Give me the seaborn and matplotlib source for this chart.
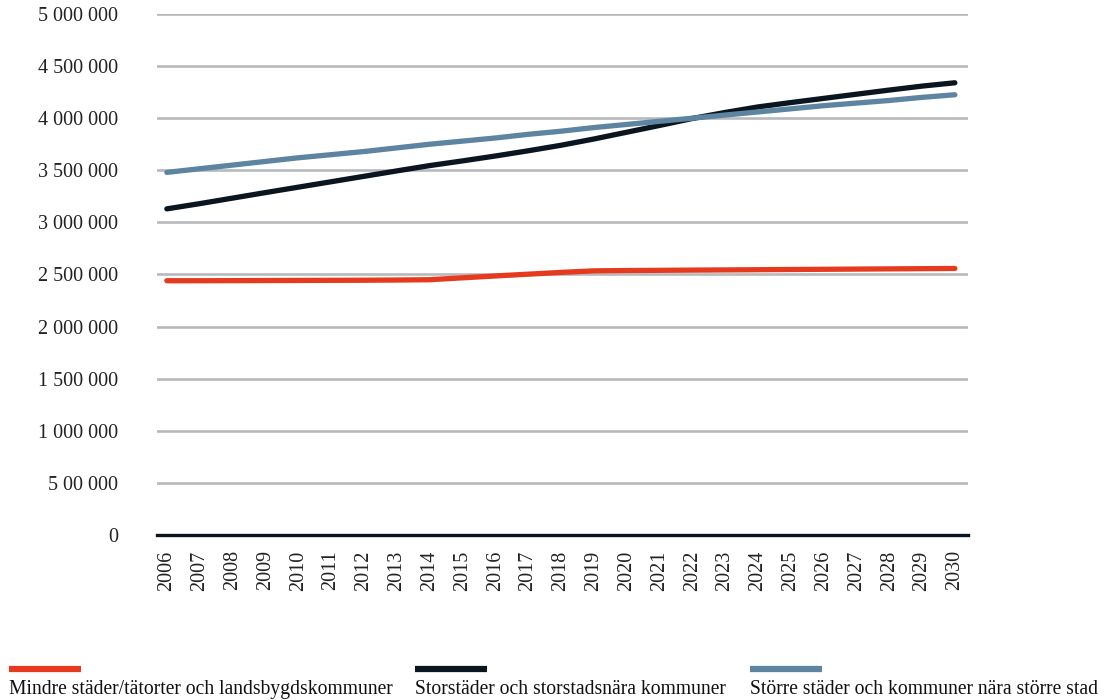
import matplotlib
matplotlib.use("Agg")
import matplotlib.pyplot as plt
from matplotlib.lines import Line2D
import seaborn as sns
import pandas as pd

years = list(range(2006, 2031))
series_names = [
    "Mindre städer/tätorter och landsbygdskommuner",
    "Storstäder och storstadsnära kommuner",
    "Större städer och kommuner nära större stad",
]
mindre = [2440000, 2440000, 2441000, 2442000, 2443000, 2444000, 2445000, 2447000, 2450000,
          2468000, 2486000, 2503000, 2520000, 2535000, 2538000, 2540000, 2542000, 2544000,
          2546000, 2548000, 2550000, 2552000, 2554000, 2556000, 2558000]
storstad = [3130000, 3180000, 3233000, 3286000, 3338000, 3390000, 3442000, 3494000, 3545000,
            3590000, 3637000, 3687000, 3740000, 3800000, 3865000, 3930000, 3997000, 4055000,
            4108000, 4150000, 4190000, 4230000, 4270000, 4308000, 4340000]
storre = [3480000, 3515000, 3550000, 3585000, 3620000, 3650000, 3680000, 3715000, 3750000,
          3780000, 3810000, 3845000, 3875000, 3910000, 3940000, 3970000, 4000000, 4030000,
          4060000, 4090000, 4120000, 4145000, 4170000, 4200000, 4225000]
colors = ["#e63a1e", "#0a1520", "#5d84a0"]
yticks = [0, 500000, 1000000, 1500000, 2000000, 2500000, 3000000, 3500000, 4000000, 4500000, 5000000]
ytick_labels = ["0", "5 00 000", "1 000 000", "1 500 000", "2 000 000", "2 500 000",
                "3 000 000", "3 500 000", "4 000 000", "4 500 000", "5 000 000"]

df = pd.DataFrame({
    "year": years * 3,
    "value": mindre + storstad + storre,
    "series": [series_names[0]] * len(years) + [series_names[1]] * len(years) + [series_names[2]] * len(years),
})

sns.set_theme(style="white")
plt.rcParams["font.family"] = ["Liberation Serif", "DejaVu Serif"]

fig = plt.figure(figsize=(11.04, 7.0), dpi=100)
ax = fig.add_axes([157 / 1104, 1 - 535 / 700, (968 - 157) / 1104, (535 - 14) / 700])

for yt in yticks[1:]:
    ax.axhline(yt, color="#b8b9bc", lw=1.9, zorder=0)

sns.lineplot(data=df, x="year", y="value", hue="series", hue_order=series_names,
             palette=colors, linewidth=3.8, legend=False, ax=ax, zorder=3)

ax.set_ylim(0, 5000000)
ax.set_xlim(2005.7, 2030.4)
ax.set_yticks(yticks)
ax.set_yticklabels(ytick_labels, fontsize=14.5, color="#222222")
ax.set_xticks(years)
ax.set_xticklabels([str(y) for y in years], rotation=90, fontsize=14.5, color="#222222")
ax.tick_params(axis="y", length=0, pad=28)
ax.tick_params(axis="x", length=0, pad=11)
ax.set_xlabel("")
ax.set_ylabel("")
for s in ["top", "right", "left"]:
    ax.spines[s].set_visible(False)
ax.spines["bottom"].set_color("#0a1520")
ax.spines["bottom"].set_linewidth(2.4)

# Legend: colored bar above each label
leg_x = [9, 415, 750]
for name, c, x0 in zip(series_names, colors, leg_x):
    fig.add_artist(Line2D([x0 / 1104, (x0 + 72) / 1104], [1 - 669 / 700, 1 - 669 / 700],
                          color=c, lw=4.5, solid_capstyle="butt"))
    fig.text(x0 / 1104, 1 - 694 / 700, name, fontsize=14.1, color="#111111",
             ha="left", va="baseline")

fig.savefig("out.png", dpi=100)
